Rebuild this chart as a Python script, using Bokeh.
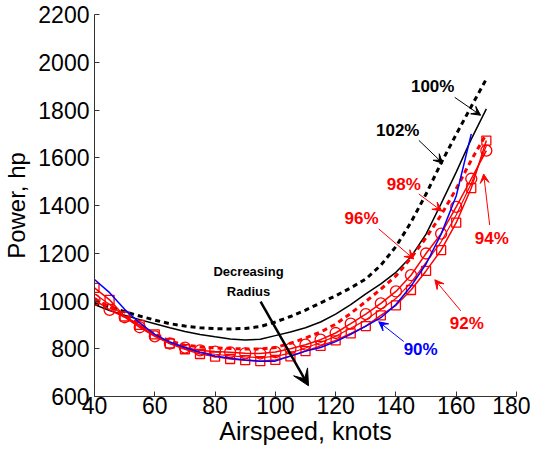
from bokeh.plotting import figure
from bokeh.models import Range1d, Arrow, VeeHead, Label, FixedTicker
from bokeh.embed import file_html
from bokeh.resources import INLINE

# ---- data ----
speed = [40, 45, 50, 55, 60, 65, 70, 75, 80, 85, 90, 95, 100, 105, 110,
         115, 120, 125, 130, 135, 140, 145, 150, 155, 160, 165, 170]
speed_blue = [40, 45, 50, 55, 60, 65, 70, 75, 80, 85, 90, 95, 100, 105, 110,
              115, 120, 125, 130, 135, 140, 145, 150, 155, 160, 165]

black_dashed = [990, 975, 955, 937, 920, 905, 895, 888, 884, 883, 885, 893, 912,
                935, 962, 992, 1022, 1055, 1092, 1150, 1228, 1330, 1448, 1578,
                1698, 1815, 1930]
black_solid = [985, 960, 940, 922, 905, 888, 872, 860, 850, 841, 837, 840, 855,
               870, 888, 912, 945, 985, 1030, 1072, 1120, 1185, 1280, 1408,
               1540, 1678, 1805]
red_dashed = [1010, 975, 940, 900, 862, 832, 815, 808, 804, 801, 799, 799, 805,
              823, 845, 870, 903, 948, 998, 1050, 1105, 1180, 1265, 1360,
              1470, 1590, 1700]
red_circles = [1005, 963, 932, 890, 852, 822, 805, 793, 788, 785, 781, 780, 786,
               800, 817, 838, 866, 905, 945, 990, 1040, 1108, 1199, 1282,
               1394, 1512, 1630]
red_thin = [1030, 985, 935, 895, 855, 822, 800, 785, 777, 770, 766, 763, 768,
            782, 803, 826, 852, 886, 920, 965, 1010, 1077, 1162, 1248,
            1360, 1492, 1650]
red_squares = [1055, 1005, 935, 900, 860, 822, 798, 778, 767, 757, 752, 748, 753,
               768, 790, 812, 835, 864, 895, 940, 982, 1046, 1126, 1213,
               1328, 1473, 1672]
blue = [1090, 1035, 965, 908, 860, 828, 805, 785, 770, 760, 753, 748, 748,
        770, 790, 805, 830, 860, 895, 930, 985, 1062, 1155, 1280, 1440, 1700]

x_ticks = [40, 60, 80, 100, 120, 140, 160, 180]
y_ticks = [600, 800, 1000, 1200, 1400, 1600, 1800, 2000, 2200]

FONT = "Liberation Sans"
RED = "#ff0000"
BLUE = "#0000ff"

p = figure(width=530, height=447, output_backend="svg", toolbar_location=None,
           x_range=Range1d(40, 180), y_range=Range1d(600, 2200),
           min_border_left=91, min_border_right=14, min_border_top=14,
           min_border_bottom=50)
p.outline_line_color = None
p.grid.visible = False
p.background_fill_color = "white"
p.border_fill_color = "white"

p.xaxis.ticker = FixedTicker(ticks=x_ticks)
p.yaxis.ticker = FixedTicker(ticks=y_ticks)
for ax in (p.xaxis[0], p.yaxis[0]):
    ax.major_label_text_font = FONT
    ax.major_label_text_font_size = "23px"
    ax.major_label_text_color = "black"
    ax.axis_label_text_font = FONT
    ax.axis_label_text_font_style = "normal"
    ax.axis_label_text_color = "black"
    ax.axis_line_color = "#333333"
    ax.major_tick_line_color = "#333333"
    ax.major_tick_in = 5
    ax.major_tick_out = 0
    ax.minor_tick_line_color = None
p.xaxis.axis_label = "Airspeed, knots"
p.yaxis.axis_label = "Power, hp"
p.xaxis.axis_label_text_font_size = "25px"
p.yaxis.axis_label_text_font_size = "24px"
p.xaxis.major_label_standoff = 0
p.xaxis.axis_label_standoff = 0
p.yaxis.major_label_standoff = 5
p.yaxis.axis_label_standoff = 5

# ---- series ----
p.line(speed, black_dashed, line_color="black", line_width=3, line_dash="5 4")
p.line(speed, black_solid, line_color="black", line_width=1.5)
p.line(speed, red_dashed, line_color=RED, line_width=3, line_dash="5 4")
p.line(speed, red_thin, line_color=RED, line_width=1.2)
p.line(speed, red_circles, line_color=RED, line_width=1.5)
p.scatter(speed, red_circles, marker="circle", size=11, line_color=RED,
          fill_color=None, line_width=1.3)
p.line(speed, red_squares, line_color=RED, line_width=1.5)
p.scatter(speed, red_squares, marker="square", size=9, line_color=RED,
          fill_color=None, line_width=1.3)
p.line(speed_blue, blue, line_color=BLUE, line_width=1.5)

# ---- annotations ----
labels = [
    ("100%", 152.2, 1899, "black", (159.5, 1853), (168.1, 1778)),
    ("102%", 140.6, 1715, "black", (147.6, 1673), (155.5, 1577)),
    ("98%", 142.6, 1490, RED, (147.6, 1448), (155.2, 1377)),
    ("96%", 128.6, 1344, RED, (134.3, 1302), (145.9, 1176)),
    ("94%", 171.8, 1260, RED, (171.1, 1318), (169.1, 1532)),
    ("92%", 163.5, 905, RED, (161.5, 959), (152.9, 1089)),
    ("90%", 148.2, 796, BLUE, (142.6, 830), (134.3, 913)),
]
for txt, lx, ly, col, (x0, y0), (x1, y1) in labels:
    p.add_layout(Label(x=lx, y=ly, text=txt, text_color=col, text_font=FONT,
                       text_font_style="bold", text_font_size="17px",
                       text_align="center", text_baseline="middle"))
    p.add_layout(Arrow(x_start=x0, y_start=y0, x_end=x1, y_end=y1,
                       line_color=col, line_width=1,
                       end=VeeHead(size=9, fill_color=col, line_color=col,
                                   line_width=1)))

p.add_layout(Label(x=91.1, y=1122, text="Decreasing", text_color="black",
                   text_font=FONT, text_font_style="bold", text_font_size="13px",
                   text_align="center", text_baseline="middle"))
p.add_layout(Label(x=91.1, y=1039, text="Radius", text_color="black",
                   text_font=FONT, text_font_style="bold", text_font_size="13px",
                   text_align="center", text_baseline="middle"))
p.add_layout(Arrow(x_start=95.1, y_start=997, x_end=111.0, y_end=645,
                   line_color="black", line_width=2.5,
                   end=VeeHead(size=16, fill_color="black", line_color="black",
                               line_width=1)))

open("out.html", "w").write(file_html(p, INLINE))
